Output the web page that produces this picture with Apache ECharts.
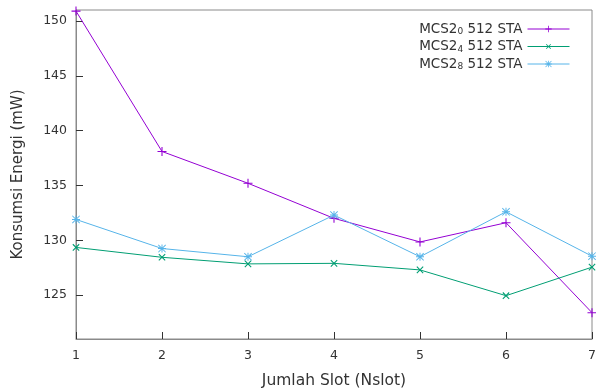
<!DOCTYPE html>
<html>
<head>
<meta charset="utf-8">
<script src="https://cdn.jsdelivr.net/npm/echarts@6/dist/echarts.min.js"></script>
<style>
  html, body {margin: 0; padding: 0; background: #fff;}
  #chart {width: 596px; height: 388px;}
</style>
</head>
<body>
<div id="chart"></div>
<script>
// data
const slots = [1, 2, 3, 4, 5, 6, 7];
const seriesNames = ['MCS2_0 512 STA', 'MCS2_4 512 STA', 'MCS2_8 512 STA'];
const mcs0 = [150.9, 138.1, 135.2, 132.0, 129.85, 131.6, 123.4];
const mcs4 = [129.35, 128.45, 127.85, 127.9, 127.3, 124.95, 127.55];
const mcs8 = [131.9, 129.25, 128.5, 132.3, 128.5, 132.6, 128.55];
const yTicks = [125, 130, 135, 140, 145, 150];

const plusPath = 'path://M4.4,0H5.6V10H4.4Z M0,4.4H10V5.6H0Z';
const starPath = 'path://M4.4,0H5.6V10H4.4Z M0,4.4H10V5.6H0Z M0,0.8L0.8,0L10,9.2L9.2,10Z M9.2,0L10,0.8L0.8,10L0,9.2Z';

const font = 'DejaVu Sans';
const colors = ['#9400d3', '#009e73', '#56b4e9'];

function pairs(vals) {
    return slots.map((x, i) => [x, vals[i]]);
}

const chart = echarts.init(document.getElementById('chart'));
chart.setOption({
    animation: false,
    color: colors,
    textStyle: {fontFamily: font},
    grid: {
        left: 76, right: 4, top: 10, bottom: 49,
        outerBoundsMode: 'none',
        show: true, borderColor: '#8a8a8a', borderWidth: 1
    },
    legend: {
        orient: 'vertical',
        right: 21,
        top: 17,
        align: 'right',
        itemWidth: 42,
        itemHeight: 8,
        itemGap: 3,
        lineStyle: {width: 1},
        textStyle: {
            fontFamily: font, fontSize: 13.5, color: '#333',
            rich: {
                s: {fontFamily: font, fontSize: 9, color: '#333', padding: [6, 0, 0, 0]}
            }
        },
        formatter: name => name.replace(/_(\d)/, '{s|$1}'),
        data: seriesNames
    },
    xAxis: {
        type: 'value',
        min: 1, max: 7, interval: 1,
        name: 'Jumlah Slot (Nslot)',
        nameLocation: 'middle',
        nameGap: 34,
        nameTextStyle: {fontFamily: font, fontSize: 15.5, color: '#333'},
        axisLine: {lineStyle: {color: '#8a8a8a'}},
        axisTick: {inside: true, length: 7, lineStyle: {color: '#333'}},
        axisLabel: {fontFamily: font, fontSize: 12.5, color: '#333', margin: 10},
        splitLine: {show: false}
    },
    yAxis: {
        type: 'value',
        min: 121, max: 151,
        name: 'Konsumsi Energi (mW)',
        nameLocation: 'middle',
        nameGap: 50,
        nameTextStyle: {fontFamily: font, fontSize: 15, color: '#333'},
        axisLine: {show: true, lineStyle: {color: '#8a8a8a'}},
        axisTick: {inside: true, length: 7, customValues: yTicks, lineStyle: {color: '#333'}},
        axisLabel: {fontFamily: font, fontSize: 12.5, color: '#333', margin: 9, customValues: yTicks},
        splitLine: {show: false}
    },
    series: [
        {
            name: seriesNames[0], type: 'line', data: pairs(mcs0),
            symbol: plusPath, symbolSize: 9,
            lineStyle: {width: 1}, itemStyle: {color: colors[0]}
        },
        {
            name: seriesNames[1], type: 'line', data: pairs(mcs4),
            symbol: plusPath, symbolSize: 9, symbolRotate: 45,
            lineStyle: {width: 1}, itemStyle: {color: colors[1]}
        },
        {
            name: seriesNames[2], type: 'line', data: pairs(mcs8),
            symbol: starPath, symbolSize: 8,
            lineStyle: {width: 1}, itemStyle: {color: colors[2]}
        }
    ]
});
</script>
</body>
</html>
